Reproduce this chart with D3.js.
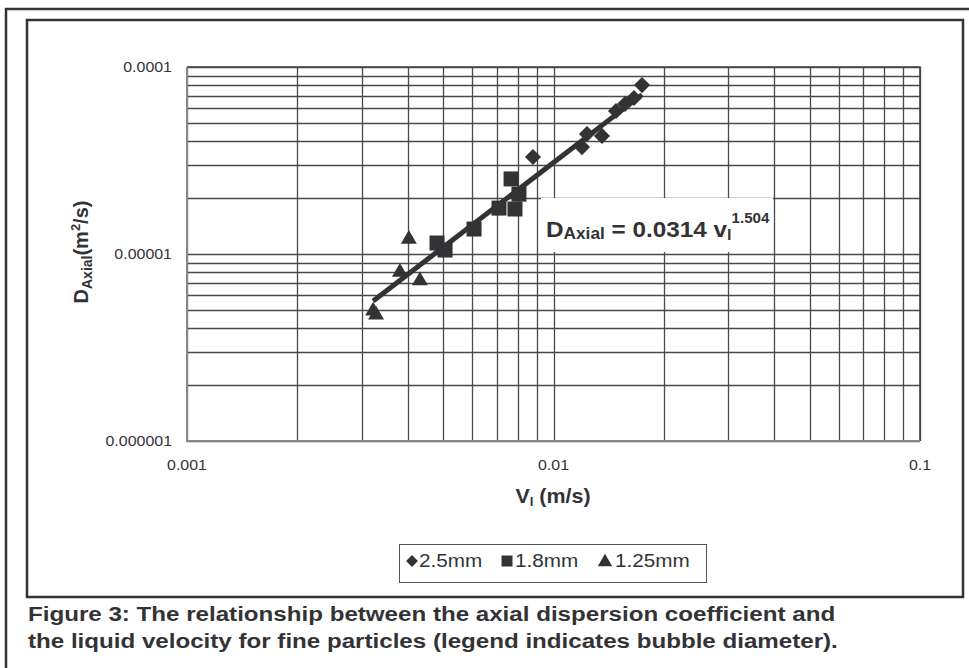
<!DOCTYPE html>
<html>
<head>
<meta charset="utf-8">
<script src="https://cdn.jsdelivr.net/npm/d3@7"></script>
<style>
  body { margin: 0; background: #fff; }
  svg { display: block; }
</style>
</head>
<body>
<div id="chart"></div>
<script>
'use strict';

// bubble diameter series: liquid velocity (m/s) and axial dispersion (m2/s)
var series = ["2.5mm", "1.8mm", "1.25mm"];
var v25  = [0.00879, 0.01196, 0.01234, 0.01356, 0.01481, 0.01567, 0.01658, 0.01744];
var d25  = [3.30e-5, 3.73e-5, 4.38e-5, 4.28e-5, 5.82e-5, 6.34e-5, 6.83e-5, 8.0e-5];
var v18  = [0.00481, 0.00506, 0.00607, 0.0071, 0.00785, 0.00805, 0.00766];
var d18  = [1.145e-5, 1.05e-5, 1.36e-5, 1.76e-5, 1.74e-5, 2.09e-5, 2.52e-5];
var v125 = [0.00403, 0.00381, 0.00432, 0.00322, 0.00328];
var d125 = [1.20e-5, 8.0e-6, 7.2e-6, 4.96e-6, 4.72e-6];

// power trend line D = a * v^b
var trendA = 0.0314, trendB = 1.504;

var xTicks = [0.001, 0.01, 0.1];
var xTickLabels = ["0.001", "0.01", "0.1"];
var yTicks = [1e-6, 1e-5, 1e-4];
var yTickLabels = ["0.000001", "0.00001", "0.0001"];

var FONT = "'Liberation Sans', Arial, Helvetica, sans-serif";
var ink = "#333336";
var sx = 1.1; // text in the figure is a bit wide

var W = 969, H = 668;
var plot = {left: 187, top: 67, right: 920, bottom: 441};

var svg = d3.select("#chart").append("svg")
  .attr("width", W)
  .attr("height", H);

var x = d3.scaleLog().domain([0.001, 0.1]).range([plot.left, plot.right]),
  y = d3.scaleLog().domain([1e-6, 1e-4]).range([plot.bottom, plot.top]);

function txt(g, px, py, s, anchor) {
  return g.append("text")
    .attr("transform", "translate(" + px + "," + py + ") scale(" + (s || 1) + ",1)")
    .attr("text-anchor", anchor || "start")
    .style("font-family", FONT)
    .attr("fill", ink);
}

// frames
svg.append("path")
  .attr("d", "M6," + H + "V9H" + W)
  .attr("fill", "none").attr("stroke", ink).attr("stroke-width", 2.5);
svg.append("rect")
  .attr("x", 27).attr("y", 20).attr("width", 936).attr("height", 577)
  .attr("fill", "none").attr("stroke", ink).attr("stroke-width", 2.5);

// grid
var xGrid = [], yGrid = [];
[0.001, 0.01].forEach(function(k){ d3.range(1, 10).forEach(function(m){ xGrid.push(m * k); }); });
xGrid.push(0.1);
[1e-6, 1e-5].forEach(function(k){ d3.range(1, 10).forEach(function(m){ yGrid.push(m * k); }); });
yGrid.push(1e-4);

var grid = svg.append("g").attr("stroke", "#4a4a4a").attr("stroke-width", 1.3);
grid.selectAll("line.v").data(xGrid).enter().append("line")
  .attr("class", "v")
  .attr("x1", function(d){ return Math.round(x(d)) + 0.5; })
  .attr("x2", function(d){ return Math.round(x(d)) + 0.5; })
  .attr("y1", plot.top).attr("y2", plot.bottom);
grid.selectAll("line.h").data(yGrid).enter().append("line")
  .attr("class", "h")
  .attr("y1", function(d){ return Math.round(y(d)) + 0.5; })
  .attr("y2", function(d){ return Math.round(y(d)) + 0.5; })
  .attr("x1", plot.left).attr("x2", plot.right);

// plot border
svg.append("path")
  .attr("d", "M" + plot.left + "," + plot.top + "H" + plot.right + "V" + plot.bottom)
  .attr("fill", "none").attr("stroke", "#444").attr("stroke-width", 1.6);
svg.append("path")
  .attr("d", "M" + plot.left + "," + plot.top + "V" + plot.bottom + "H" + plot.right)
  .attr("fill", "none").attr("stroke", "#8e8480").attr("stroke-width", 2);

// tick labels
xTicks.forEach(function(t, i){
  txt(svg, x(t), 470, sx, "middle").style("font-size", "14.5px").text(xTickLabels[i]);
});
yTicks.forEach(function(t, i){
  txt(svg, 172, y(t) + 5, sx, "end").style("font-size", "14.5px").text(yTickLabels[i]);
});

// equation label with white background
svg.append("rect")
  .attr("x", 541).attr("y", 198).attr("width", 232).attr("height", 54)
  .attr("fill", "#fff");
var eq = txt(svg, 546, 237, 1.08).style("font-weight", "bold").style("font-size", "22.5px");
eq.append("tspan").text("D");
eq.append("tspan").attr("dy", 2).style("font-size", "16px").text("Axial");
eq.append("tspan").attr("dy", -2).text(" = 0.0314 v");
eq.append("tspan").attr("dy", 3).style("font-size", "15px").text("l");
eq.append("tspan").attr("dy", -17).style("font-size", "14px").text("1.504");

// trend line over the data range
var allV = v25.concat(v18, v125);
var vExt = d3.extent(allV);
var line = d3.line()
  .x(function(d){ return x(d); })
  .y(function(d){ return y(trendA * Math.pow(d, trendB)); });
svg.append("path")
  .attr("d", line(vExt))
  .attr("fill", "none").attr("stroke", ink).attr("stroke-width", 5);

// markers
var symDiamond = d3.symbol().type(d3.symbolSquare).size(130);
var symSquare = d3.symbol().type(d3.symbolSquare).size(225);
var symTriangle = d3.symbol().type(d3.symbolTriangle).size(110);

function points(vs, ds, sym, rot) {
  svg.append("g").selectAll("path").data(vs).enter().append("path")
    .attr("d", sym)
    .attr("transform", function(d, i){
      return "translate(" + x(d) + "," + y(ds[i]) + ")" + (rot ? " rotate(45)" : "");
    })
    .attr("fill", ink);
}
points(v125, d125, symTriangle, false);
points(v18, d18, symSquare, false);
points(v25, d25, symDiamond, true);

// axis titles
var yt = svg.append("text")
  .attr("transform", "translate(88,252) rotate(-90)")
  .attr("text-anchor", "middle")
  .style("font-family", FONT).style("font-weight", "bold").style("font-size", "20px")
  .attr("fill", ink);
yt.append("tspan").text("D");
yt.append("tspan").attr("dy", 4).style("font-size", "14px").text("Axial");
yt.append("tspan").attr("dy", -4).text("(m");
yt.append("tspan").attr("dy", -8).style("font-size", "13px").text("2");
yt.append("tspan").attr("dy", 8).text("/s)");

var xt = txt(svg, 553, 503, sx, "middle").style("font-weight", "bold").style("font-size", "19.5px");
xt.append("tspan").text("V");
xt.append("tspan").attr("dy", 3).style("font-size", "12px").text("l");
xt.append("tspan").attr("dy", -3).text(" (m/s)");

// legend
svg.append("rect")
  .attr("x", 399.5).attr("y", 544.5).attr("width", 307).attr("height", 38)
  .attr("fill", "#fff").attr("stroke", "#555").attr("stroke-width", 1);
var legSym = [
  d3.symbol().type(d3.symbolSquare).size(70),
  d3.symbol().type(d3.symbolSquare).size(121),
  d3.symbol().type(d3.symbolTriangle).size(90)
];
var legX = [412, 507, 605];
var legTx = [419, 515, 615];
series.forEach(function(s, i){
  svg.append("path")
    .attr("d", legSym[i])
    .attr("transform", "translate(" + legX[i] + "," + (i == 2 ? 562 : 561) + ")" + (i == 0 ? " rotate(45)" : ""))
    .attr("fill", ink);
  txt(svg, legTx[i], 567, 1.12).style("font-size", "18.5px").text(s);
});

// caption
var cap = [
  "Figure 3: The relationship between the axial dispersion coefficient and",
  "the liquid velocity for fine particles (legend indicates bubble diameter)."
];
cap.forEach(function(c, i){
  txt(svg, 28, 621 + i * 27, 1.15).style("font-weight", "bold").style("font-size", "21px").text(c);
});
</script>
</body>
</html>
